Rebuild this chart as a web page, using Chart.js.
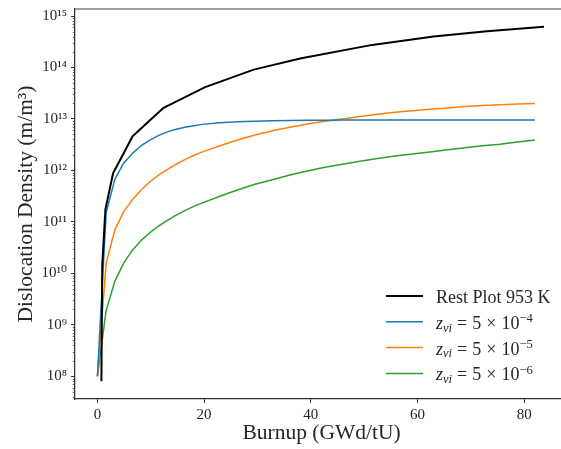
<!DOCTYPE html>
<html><head><meta charset="utf-8">
<script src="https://cdn.jsdelivr.net/npm/chart.js@4.4.1/dist/chart.umd.min.js"></script>
<style>
html,body{margin:0;padding:0;overflow:hidden;background:#fff;width:561px;height:449px}
#wrap{position:relative;width:580px;height:449px}
</style>
</head><body>
<div id="wrap"><canvas id="c" width="580" height="449"></canvas></div>
<script>
// ---- data ----
const restBurnup  = [0.75, 0.9, 1.5, 2.94, 6.6, 12.4, 20.2, 29.3, 38.0, 51.5, 63.0, 73.0, 83.7];
const restDensity = [8e7, 1.4e10, 1.75e11, 8.8e11, 4.6e12, 1.65e13, 4.15e13, 9.1e13, 1.49e14, 2.75e14, 4.0e14, 5.05e14, 6.2e14];
const modelBurnup = [0, 1.64, 3.28, 4.92, 6.56, 8.2, 9.84, 11.48, 13.12, 14.76, 16.4, 18.04, 19.68,
  22.96, 26.24, 29.52, 32.8, 36.08, 39.36, 42.64, 45.92, 49.2, 52.48, 55.76, 59.04, 62.32, 65.6, 68.88, 72.16, 75.44, 78.72, 82];
const densityZ4 = [1e8, 1.51e11, 6.76e11, 1.38e12, 2.14e12, 3.02e12, 3.89e12, 4.79e12, 5.62e12, 6.31e12, 6.92e12, 7.41e12, 7.85e12,
  8.41e12, 8.81e12, 9.06e12, 9.23e12, 9.33e12, 9.42e12, 9.46e12, 9.5e12, 9.5e12, 9.5e12, 9.5e12, 9.5e12, 9.5e12, 9.5e12, 9.5e12, 9.5e12, 9.5e12, 9.5e12, 9.5e12];
const densityZ5 = [1e8, 1.58e10, 7.08e10, 1.58e11, 2.69e11, 4.17e11, 6.03e11, 8.13e11, 1.05e12, 1.32e12, 1.62e12, 1.95e12, 2.29e12,
  3.02e12, 3.89e12, 4.9e12, 5.89e12, 6.92e12, 8.0e12, 9.02e12, 1.0e13, 1.12e13, 1.24e13, 1.35e13, 1.45e13, 1.55e13, 1.64e13, 1.74e13, 1.82e13, 1.88e13, 1.95e13, 2.0e13];
const densityZ6 = [1e8, 1.91e9, 7.08e9, 1.58e10, 2.82e10, 4.37e10, 6.17e10, 8.32e10, 1.07e11, 1.35e11, 1.66e11, 2.0e11, 2.34e11,
  3.16e11, 4.17e11, 5.37e11, 6.61e11, 8.13e11, 9.77e11, 1.15e12, 1.32e12, 1.51e12, 1.7e12, 1.91e12, 2.09e12, 2.29e12, 2.51e12, 2.75e12, 3.02e12, 3.24e12, 3.55e12, 3.89e12];
const seriesLabels = ['Rest Plot 953 K', 'z_{vi} = 5 \u00d7 10^{\u22124}', 'z_{vi} = 5 \u00d7 10^{\u22125}', 'z_{vi} = 5 \u00d7 10^{\u22126}'];
const seriesIsMath = [false, true, true, true];
const xTicks = [0, 20, 40, 60, 80];
const yTicks = [1e8, 1e9, 1e10, 1e11, 1e12, 1e13, 1e14, 1e15];
const xTitle = 'Burnup (GWd/tU)';
const yTitle = 'Dislocation Density (m/m\u00b3)';

const SUP = '\u2070\u00b9\u00b2\u00b3\u2074\u2075\u2076\u2077\u2078\u2079';
function supNum(n){ return String(n).split('').map(c => c === '-' ? '\u207b' : SUP[+c]).join(''); }
function pts(xs, ys){ return xs.map((x, i) => ({x, y: ys[i]})); }

const SERIF = "'Liberation Serif', 'DejaVu Serif', serif";
const TXT = '#262626';

function parseMath(s){
  const out = []; let i = 0;
  while (i < s.length){
    if ((s[i] === '_' || s[i] === '^') && s[i+1] === '{'){
      const j = s.indexOf('}', i);
      out.push({t: s.slice(i+2, j), mode: s[i] === '_' ? 'sub' : 'sup'});
      i = j + 1;
    } else { out.push({t: s[i], mode: 'base'}); i++; }
  }
  return out;
}

const mplLegend = {
  id: 'mplLegend',
  afterDraw(chart){
    const ctx = chart.ctx, a = chart.chartArea;
    const lineX0 = a.left + 311, lineX1 = a.left + 348, textX = a.left + 361;
    const rowY0 = a.bottom - 103, dy = 25.8, fs = 18;
    ctx.save();
    chart.data.datasets.forEach((ds, k) => {
      const y = rowY0 + k * dy;
      ctx.strokeStyle = ds.borderColor; ctx.lineWidth = ds.borderWidth;
      ctx.beginPath(); ctx.moveTo(lineX0, y); ctx.lineTo(lineX1, y); ctx.stroke();
      ctx.fillStyle = TXT; ctx.textBaseline = 'alphabetic'; ctx.textAlign = 'left';
      const base = y + 7;
      if (!seriesIsMath[k]){
        ctx.font = fs + 'px ' + SERIF; ctx.fillText(ds.label, textX, base);
      } else {
        let x = textX;
        parseMath(seriesLabels[k]).forEach(p => {
          let size = fs, off = 0;
          if (p.mode === 'sub'){ size = fs * 0.7; off = 2.7; }
          if (p.mode === 'sup'){ size = fs * 0.7; off = -6.5; }
          for (const ch of p.t){
            const ital = /[a-z]/i.test(ch);
            ctx.font = (ital ? 'italic ' : '') + size + 'px ' + SERIF;
            ctx.fillText(ch, x, base + off);
            x += ctx.measureText(ch).width + (ch === ' ' ? 0.5 : 0);
          }
        });
      }
    });
    ctx.restore();
  }
};

const frameAndMinor = {
  id: 'frameAndMinor',
  afterDraw(chart){
    const ctx = chart.ctx, a = chart.chartArea, ys = chart.scales.y;
    ctx.save();
    ctx.strokeStyle = '#808080'; ctx.lineWidth = 1.5;
    ctx.beginPath(); ctx.moveTo(a.left, a.top); ctx.lineTo(a.right, a.top); ctx.stroke();
    ctx.strokeStyle = '#333'; ctx.lineWidth = 0.8;
    for (let e = 7; e <= 15; e++){
      for (let m = 2; m <= 9; m++){
        const v = m * Math.pow(10, e);
        if (v < ys.min || v > ys.max) continue;
        const py = Math.round(ys.getPixelForValue(v)) + 0.5;
        ctx.beginPath(); ctx.moveTo(a.left - 2.2, py); ctx.lineTo(a.left, py); ctx.stroke();
      }
    }
    ctx.restore();
  }
};

const mk = (label, xs, ys, color, w) => ({
  label, data: pts(xs, ys), borderColor: color, backgroundColor: color,
  borderWidth: w, pointRadius: 0, tension: 0, fill: false
});

new Chart(document.getElementById('c'), {
  type: 'line',
  data: {
    datasets: [
      mk(seriesLabels[0], restBurnup, restDensity, '#000000', 2),
      mk('z_vi = 5 \u00d7 10\u207b\u2074', modelBurnup, densityZ4, '#1f77b4', 1.5),
      mk('z_vi = 5 \u00d7 10\u207b\u2075', modelBurnup, densityZ5, '#ff7f0e', 1.5),
      mk('z_vi = 5 \u00d7 10\u207b\u2076', modelBurnup, densityZ6, '#2ca02c', 1.5)
    ]
  },
  options: {
    responsive: false, animation: false, devicePixelRatio: 1,
    layout: {padding: {left: 0, top: 9, right: 12, bottom: 0}},
    plugins: {legend: {display: false}, tooltip: {enabled: false}},
    elements: {line: {borderCapStyle: 'butt', borderJoinStyle: 'round'}},
    scales: {
      x: {
        type: 'linear', min: -4.2, max: 88.2,
        afterBuildTicks: s => { s.ticks = xTicks.map(v => ({value: v})); },
        afterFit: s => { s.height = 50; s.paddingLeft = 0; s.paddingRight = 0; },
        ticks: {font: {family: SERIF, size: 15}, color: TXT, padding: 3, autoSkip: false, maxRotation: 0},
        grid: {drawOnChartArea: false, drawTicks: true, tickLength: 4, tickColor: '#333', tickWidth: 1},
        border: {display: true, color: '#333', width: 1.25},
        title: {display: true, text: xTitle, font: {family: SERIF, size: 21.5}, color: TXT, padding: {top: 0, bottom: 2.6}}
      },
      y: {
        type: 'logarithmic', min: 3.62e7, max: 1.37e15,
        afterBuildTicks: s => { s.ticks = yTicks.map(v => ({value: v, major: true})); },
        afterFit: s => { s.width = 75; s.paddingTop = 0; s.paddingBottom = 0; },
        ticks: {font: {family: SERIF, size: 15}, color: TXT, padding: 4, autoSkip: false,
          callback: v => '10' + supNum(Math.round(Math.log10(v)))},
        grid: {drawOnChartArea: false, drawTicks: true, tickLength: 4, tickColor: '#333', tickWidth: 1},
        border: {display: true, color: '#333', width: 1.25},
        title: {display: true, text: yTitle, font: {family: SERIF, size: 21.5}, color: TXT, padding: {top: 13.6, bottom: 0}}
      }
    }
  },
  plugins: [frameAndMinor, mplLegend]
});
</script>
</body></html>
